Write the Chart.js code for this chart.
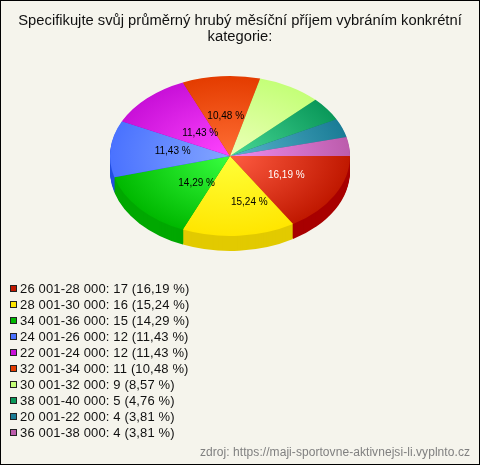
<!DOCTYPE html>
<html lang="cs">
<head>
<meta charset="utf-8">
<title>Příjem</title>
<script src="https://cdn.jsdelivr.net/npm/chart.js@4/dist/chart.umd.min.js"></script>
<style>
  html, body { margin: 0; padding: 0; background: #f5f4ec; }
  canvas { display: block; }
</style>
</head>
<body>
<canvas id="pie3d" width="480" height="465"></canvas>
<script>
const titleLines = ['Specifikujte svůj průměrný hrubý měsíční příjem vybráním konkrétní', 'kategorie:'];
const sourceText = 'zdroj: https://maji-sportovne-aktivnejsi-li.vyplnto.cz';
const categories = ['26 001-28 000', '28 001-30 000', '34 001-36 000', '24 001-26 000', '22 001-24 000',
    '32 001-34 000', '30 001-32 000', '38 001-40 000', '20 001-22 000', '36 001-38 000'];
const counts = [17, 16, 15, 12, 12, 11, 9, 5, 4, 4];
const percents = ['16,19', '15,24', '14,29', '11,43', '11,43', '10,48', '8,57', '4,76', '3,81', '3,81'];

// barvy: střed, okraj, bok
const innerColors = ['#ff5c42', '#ffff38', '#38ff40', '#84a6ff', '#ff44ff', '#ff6e34', '#ecffb8', '#48d896', '#58b4cc', '#ee8cee'];
const edgeColors = ['#c01800', '#ffe600', '#00b800', '#4a72ff', '#c810d8', '#e43c00', '#c4ff78', '#0a985a', '#1a7c96', '#bc5cac'];
const sideColors = ['#a80000', '#e2ca00', '#00a800', '#2450e0', '#a000b0', '#c03000', '#a0d860', '#088048', '#106880', '#984890'];
const labelColors = ['#ffffff', '#000000', '#000000', '#000000', '#000000', '#000000'];
const labelNudgeX = [6, 15, 10, 0, 10, 0];
const labelNudgeY = [-1, 6, 0, -3, 3, -3];

const squash = 2 / 3;
const depth = 15;
const pieShiftX = -10; // koláč není na středu, nadpis ano
const textFont = '"Liberation Sans", Arial, sans-serif';

function sliceGradient(context) {
    const area = context.chart.chartArea;
    if (!area) return edgeColors[context.dataIndex];
    const cx = (area.left + area.right) / 2, cy = (area.top + area.bottom) / 2;
    const g = context.chart.ctx.createRadialGradient(cx, cy, 0, cx, cy, 120);
    g.addColorStop(0, innerColors[context.dataIndex]);
    g.addColorStop(1, edgeColors[context.dataIndex]);
    return g;
}

const pie3dPlugin = {
    id: 'pie3d',
    beforeDraw(chart) {
        // pozadí a rámeček
        const ctx = chart.ctx;
        ctx.fillStyle = '#f5f4ec';
        ctx.fillRect(0, 0, chart.width, chart.height);
        ctx.strokeStyle = '#000000';
        ctx.lineWidth = 1;
        ctx.strokeRect(0.5, 0.5, chart.width - 1, chart.height - 1);
    },
    beforeDatasetsDraw(chart) {
        const ctx = chart.ctx;
        const arcs = chart.getDatasetMeta(0).data;
        const cx = arcs[0].x, cy = arcs[0].y;
        ctx.save();
        ctx.translate(cx + pieShiftX, cy);
        ctx.scale(1, squash);
        ctx.translate(-cx, -cy);
        // bok koláče: stejné výseče posunuté dolů
        for (let d = depth; d >= 1; d--) {
            arcs.forEach(function (arc, i) {
                const p = arc.getProps(['x', 'y', 'startAngle', 'endAngle', 'outerRadius'], true);
                ctx.fillStyle = sideColors[i];
                ctx.beginPath();
                ctx.moveTo(p.x, p.y + d / squash);
                ctx.arc(p.x, p.y + d / squash, p.outerRadius, p.startAngle, p.endAngle);
                ctx.closePath();
                ctx.fill();
            });
        }
    },
    afterDatasetsDraw(chart) {
        chart.ctx.restore();
    },
    afterDraw(chart) {
        const ctx = chart.ctx;
        const arcs = chart.getDatasetMeta(0).data;
        ctx.save();

        // popisky výsečí
        ctx.font = '10px ' + textFont;
        ctx.textAlign = 'center';
        ctx.textBaseline = 'middle';
        labelColors.forEach(function (color, i) {
            const p = arcs[i].getProps(['x', 'y', 'startAngle', 'endAngle', 'outerRadius'], true);
            const mid = (p.startAngle + p.endAngle) / 2;
            const r = p.outerRadius * 0.48;
            ctx.fillStyle = color;
            ctx.fillText(percents[i] + ' %',
                p.x + pieShiftX + r * Math.cos(mid) + labelNudgeX[i],
                p.y + r * squash * Math.sin(mid) + 2 + labelNudgeY[i]);
        });

        // legenda
        ctx.font = '13px ' + textFont;
        ctx.letterSpacing = '0.15px';
        ctx.textAlign = 'left';
        categories.forEach(function (cat, i) {
            const y = 289 + i * 16;
            ctx.fillStyle = edgeColors[i];
            ctx.fillRect(10, y - 4, 7, 7);
            ctx.strokeStyle = '#222222';
            ctx.strokeRect(10.5, y - 3.5, 6, 6);
            ctx.fillStyle = '#111111';
            ctx.fillText(cat + ': ' + counts[i] + ' (' + percents[i] + ' %)', 20, y + 0.5);
        });

        // zdroj
        ctx.font = '12px ' + textFont;
        ctx.letterSpacing = '0.06px';
        ctx.textAlign = 'right';
        ctx.fillStyle = '#808080';
        ctx.fillText(sourceText, 470, 453);
        ctx.restore();
    }
};

new Chart(document.getElementById('pie3d'), {
    type: 'pie',
    data: {
        labels: categories,
        datasets: [{
            data: counts,
            backgroundColor: sliceGradient,
            borderWidth: 0,
            radius: 120,
            clip: false
        }]
    },
    options: {
        responsive: false,
        animation: false,
        rotation: 90,
        layout: { padding: { bottom: 199 } },
        plugins: {
            legend: { display: false },
            tooltip: { enabled: false },
            title: {
                display: true,
                text: titleLines,
                color: '#111111',
                font: { family: textFont, size: 14.75, weight: 'normal', lineHeight: 1.085 },
                padding: { top: 13, bottom: 1 }
            }
        }
    },
    plugins: [pie3dPlugin]
});
</script>
</body>
</html>
